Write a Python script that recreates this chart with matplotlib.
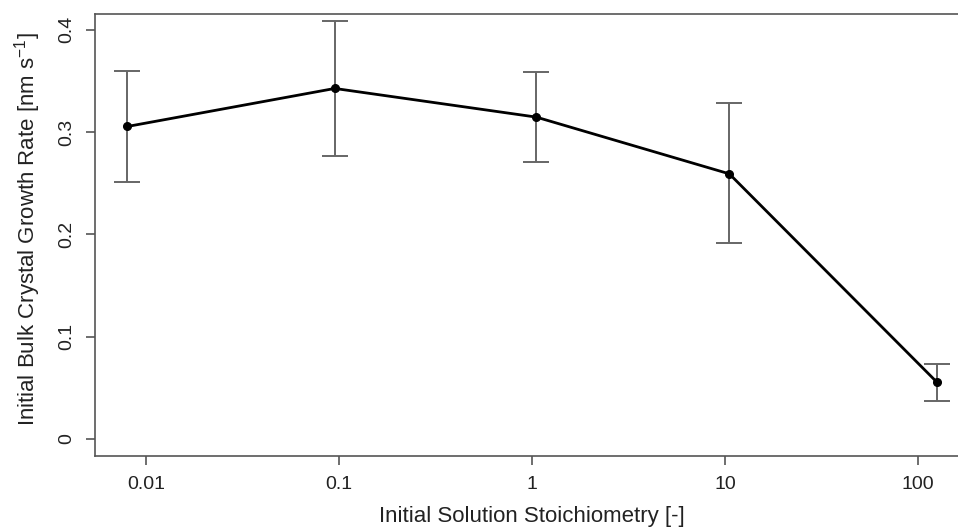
import matplotlib
matplotlib.use("Agg")
import matplotlib.pyplot as plt
import numpy as np

stoich = [0.008, 0.095, 1.05, 10.5, 125]
rate = [0.3055, 0.3427, 0.3147, 0.2592, 0.0554]
rate_upper = [0.3597, 0.4086, 0.3587, 0.3280, 0.0733]
rate_lower = [0.2514, 0.2765, 0.2706, 0.1917, 0.0374]
xticks = [0.01, 0.1, 1, 10, 100]
xticklabels = ["0.01", "0.1", "1", "10", "100"]
yticks = [0, 0.1, 0.2, 0.3, 0.4]
yticklabels = ["0", "0.1", "0.2", "0.3", "0.4"]

plt.rcParams['font.family'] = ['Liberation Sans', 'DejaVu Sans']
plt.rcParams['mathtext.fontset'] = 'custom'
plt.rcParams['mathtext.rm'] = 'Liberation Sans'
plt.rcParams['mathtext.it'] = 'Liberation Sans'

fig = plt.figure(figsize=(9.58, 5.27), dpi=100)
W, H = 958, 527
ax_l, ax_r, ax_t, ax_b = 94.9, 969.4, 14.0, 455.7
ax = fig.add_axes([ax_l / W, (H - ax_b) / H, (ax_r - ax_l) / W, (ax_b - ax_t) / H])
aw, ah = ax_r - ax_l, ax_b - ax_t

r = np.array(rate)
yerr = [r - np.array(rate_lower), np.array(rate_upper) - r]
ax.errorbar(stoich, rate, yerr=yerr, fmt='none', ecolor='#666666', elinewidth=1.4,
            capsize=9.3, capthick=1.4, zorder=2)
ax.plot(stoich, rate, color='black', lw=2.0, marker='o', ms=5.5, zorder=3)

ax.set_xscale('log')
lx = np.log10(stoich)
span = lx.max() - lx.min()
ax.set_xlim(10 ** (lx.min() - 0.04 * span), 10 ** (lx.max() + 0.04 * span))
ax.set_ylim(-0.0164, 0.4155)

ax.set_xticks(xticks)
ax.set_xticklabels(xticklabels)
ax.minorticks_off()
ax.set_yticks(yticks)
ax.set_yticklabels(yticklabels, rotation=90, va='center')

for s in ax.spines.values():
    s.set_color('#555555')
    s.set_linewidth(1.2)
ax.tick_params(axis='both', colors='#555555', length=6.5, width=1.2, labelsize=14,
               labelcolor='#222222')
ax.tick_params(axis='x', pad=8)
ax.tick_params(axis='y', pad=7.5)

ax.set_xlabel("Initial Solution Stoichiometry [-]", fontsize=16, color='#222222')
ax.xaxis.set_label_coords(0.5, -(506 - ax_b) / ah)
ax.set_ylabel("Initial Bulk Crystal Growth Rate [nm s$^{-1}$]", fontsize=16, color='#222222',
              va='center')
ax.yaxis.set_label_coords(-(ax_l - 28) / aw, (ax_b - 229) / ah)

fig.savefig("out.png", dpi=100)
